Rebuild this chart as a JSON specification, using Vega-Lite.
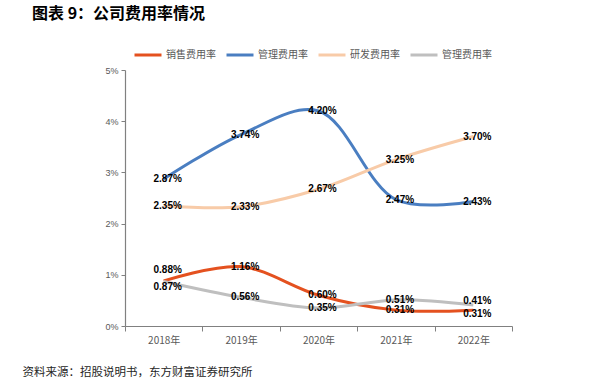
{
  "$schema": "https://vega.github.io/schema/vega-lite/v6.json",
  "width": 387,
  "height": 256,
  "autosize": {"type": "none"},
  "padding": {"left": 125, "top": 70, "right": 85, "bottom": 60},
  "background": "white",
  "title": {
    "text": "图表 9：公司费用率情况",
    "anchor": "start",
    "frame": "group",
    "dx": -93,
    "dy": -14,
    "font": "Noto Sans CJK SC",
    "fontSize": 16,
    "fontWeight": "bold",
    "color": "#000000"
  },
  "config": {
    "view": {"stroke": null},
    "font": "Liberation Sans"
  },
  "data": {
    "values": [
      {"year": "2018年", "series": "销售费用率", "value": 0.0088},
      {"year": "2019年", "series": "销售费用率", "value": 0.0116},
      {"year": "2020年", "series": "销售费用率", "value": 0.0060},
      {"year": "2021年", "series": "销售费用率", "value": 0.0031},
      {"year": "2022年", "series": "销售费用率", "value": 0.0031},
      {"year": "2018年", "series": "管理费用率", "value": 0.0287},
      {"year": "2019年", "series": "管理费用率", "value": 0.0374},
      {"year": "2020年", "series": "管理费用率", "value": 0.0420},
      {"year": "2021年", "series": "管理费用率", "value": 0.0247},
      {"year": "2022年", "series": "管理费用率", "value": 0.0243},
      {"year": "2018年", "series": "研发费用率", "value": 0.0235},
      {"year": "2019年", "series": "研发费用率", "value": 0.0233},
      {"year": "2020年", "series": "研发费用率", "value": 0.0267},
      {"year": "2021年", "series": "研发费用率", "value": 0.0325},
      {"year": "2022年", "series": "研发费用率", "value": 0.0370},
      {"year": "2018年", "series": "管理费用率_2", "value": 0.0087},
      {"year": "2019年", "series": "管理费用率_2", "value": 0.0056},
      {"year": "2020年", "series": "管理费用率_2", "value": 0.0035},
      {"year": "2021年", "series": "管理费用率_2", "value": 0.0051},
      {"year": "2022年", "series": "管理费用率_2", "value": 0.0041}
    ]
  },
  "encoding": {
    "x": {
      "field": "year",
      "type": "ordinal",
      "scale": {"paddingInner": 0, "paddingOuter": 0},
      "axis": {
        "title": "资料来源：招股说明书，东方财富证券研究所",
        "titleAnchor": "start",
        "titleX": -103,
        "titleY": 46,
        "titleBaseline": "middle",
        "titleFont": "Noto Sans CJK SC",
        "titleFontSize": 11.5,
        "titleFontWeight": "normal",
        "titleColor": "#262626",
        "labelAngle": 0,
        "labelFont": "Noto Sans CJK SC",
        "labelFontSize": 10,
        "labelColor": "#595959",
        "labelPadding": 4,
        "tickBand": "extent",
        "tickSize": 5,
        "tickColor": "#808080",
        "domainColor": "#808080",
        "domainWidth": 1.2
      }
    },
    "y": {
      "field": "value",
      "type": "quantitative",
      "scale": {"domain": [0, 0.05], "nice": false},
      "axis": {
        "title": null,
        "values": [0, 0.01, 0.02, 0.03, 0.04, 0.05],
        "format": ".0%",
        "labelFont": "Liberation Sans",
        "labelFontSize": 9,
        "labelColor": "#595959",
        "labelPadding": 3,
        "tickSize": 4,
        "tickColor": "#808080",
        "domainColor": "#808080",
        "domainWidth": 1.2,
        "grid": false
      }
    }
  },
  "layer": [
    {
      "mark": {"type": "line", "interpolate": "catmull-rom", "strokeWidth": 3},
      "encoding": {
        "color": {
          "field": "series",
          "type": "nominal",
          "scale": {
            "domain": ["销售费用率", "管理费用率", "研发费用率", "管理费用率_2"],
            "range": ["#E4511F", "#4A7EC1", "#F8CBA8", "#BFBFBF"]
          },
          "legend": {
            "title": null,
            "orient": "none",
            "direction": "horizontal",
            "legendX": 8,
            "legendY": -30,
            "symbolType": "stroke",
            "symbolSize": 729,
            "symbolStrokeWidth": 3,
            "labelOffset": 3,
            "columnPadding": 4,
            "labelFont": "Noto Sans CJK SC",
            "labelFontSize": 10,
            "labelColor": "#595959",
            "labelExpr": "replace(datum.label, '_2', '')"
          }
        }
      }
    },
    {
      "transform": [{"filter": "!((datum.year == '2018年' || datum.year == '2022年') && (datum.series == '销售费用率' || datum.series == '管理费用率_2'))"}],
      "mark": {"type": "text", "dx": 4, "fontSize": 10, "fontWeight": "bold", "color": "#000000", "baseline": "middle"},
      "encoding": {"text": {"field": "value", "type": "quantitative", "format": ".2%"}}
    },
    {
      "transform": [{"filter": "datum.year == '2018年' && datum.series == '销售费用率'"}],
      "mark": {"type": "text", "dx": 4, "dy": -11, "fontSize": 10, "fontWeight": "bold", "color": "#000000", "baseline": "middle"},
      "encoding": {"text": {"field": "value", "type": "quantitative", "format": ".2%"}}
    },
    {
      "transform": [{"filter": "datum.year == '2018年' && datum.series == '管理费用率_2'"}],
      "mark": {"type": "text", "dx": 4, "dy": 6, "fontSize": 10, "fontWeight": "bold", "color": "#000000", "baseline": "middle"},
      "encoding": {"text": {"field": "value", "type": "quantitative", "format": ".2%"}}
    },
    {
      "transform": [{"filter": "datum.year == '2022年' && datum.series == '管理费用率_2'"}],
      "mark": {"type": "text", "dx": 4, "dy": -4, "fontSize": 10, "fontWeight": "bold", "color": "#000000", "baseline": "middle"},
      "encoding": {"text": {"field": "value", "type": "quantitative", "format": ".2%"}}
    },
    {
      "transform": [{"filter": "datum.year == '2022年' && datum.series == '销售费用率'"}],
      "mark": {"type": "text", "dx": 4, "dy": 4, "fontSize": 10, "fontWeight": "bold", "color": "#000000", "baseline": "middle"},
      "encoding": {"text": {"field": "value", "type": "quantitative", "format": ".2%"}}
    }
  ]
}
